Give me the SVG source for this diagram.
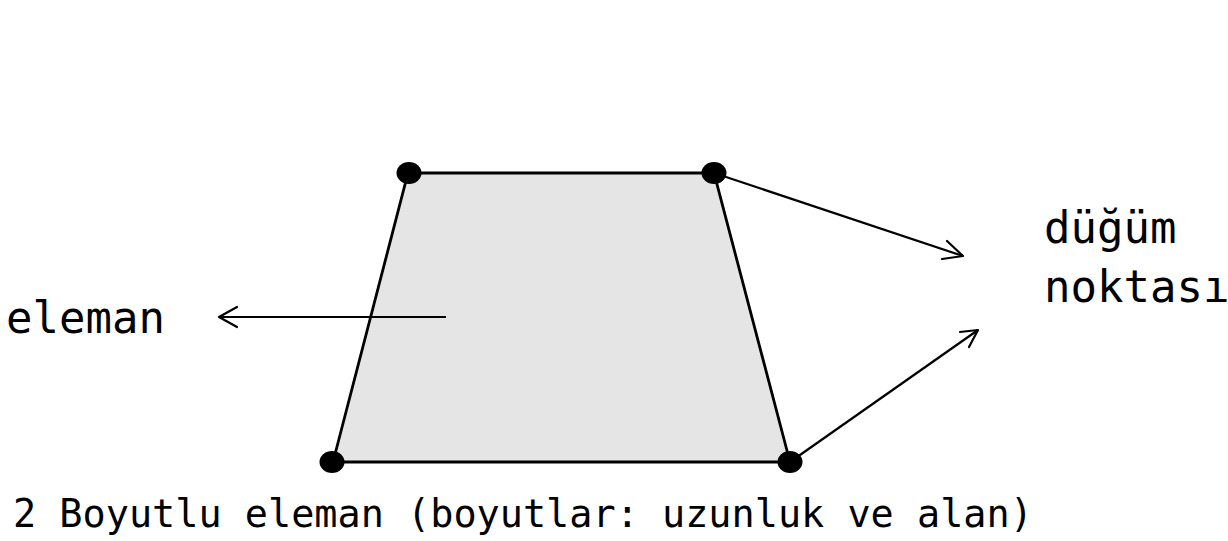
<svg xmlns="http://www.w3.org/2000/svg" width="1228" height="541" viewBox="0 0 1228 541">
<style>
.lbl{font-family:"DejaVu Sans Mono","Liberation Mono",monospace;fill:#000}
.edge{fill:#e5e5e5;stroke:#000;stroke-width:2.8;stroke-linejoin:miter}
.node{fill:#000}
.conn{stroke:#000;stroke-width:2.2;fill:none}
.head{stroke:#000;stroke-width:2.2;fill:none;stroke-linecap:round;stroke-linejoin:round}
</style>
<rect width="1228" height="541" fill="#fff"/>
<g id="element">
<polygon class="edge" points="408,173 714,173 790,462 333,462"/>
</g>
<g id="connectors">
<line class="conn" x1="446" y1="317" x2="219" y2="317"/>
<polyline class="head" points="237,307 219,317 237,327"/>
<line class="conn" x1="714" y1="173" x2="963" y2="256"/>
<polyline class="head" points="947,241 963,256 942,259"/>
<line class="conn" x1="790" y1="462" x2="978" y2="330"/>
<polyline class="head" points="960,332 978,330 969,347"/>
</g>
<g id="node-tl"><ellipse class="node" cx="409" cy="173" rx="12.5" ry="11"/></g>
<g id="node-tr"><ellipse class="node" cx="714" cy="173" rx="12.5" ry="11"/></g>
<g id="node-br"><ellipse class="node" cx="790" cy="462" rx="12.5" ry="11"/></g>
<g id="node-bl"><ellipse class="node" cx="332" cy="462" rx="12.5" ry="11"/></g>
<g id="label-eleman"><text class="lbl" x="6" y="333" font-size="44">eleman</text></g>
<g id="label-dugum"><text class="lbl" x="1044" y="243" font-size="44">düğüm</text><text class="lbl" x="1044" y="302" font-size="44">noktası</text></g>
<g id="caption"><text class="lbl" x="13" y="527" font-size="38.5">2 Boyutlu eleman (boyutlar: uzunluk ve alan)</text></g>
</svg>
